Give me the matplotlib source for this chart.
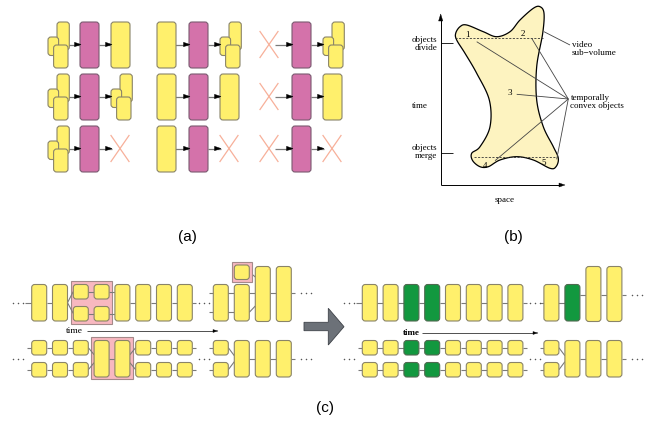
import numpy as np
import matplotlib
matplotlib.use("Agg")
import matplotlib.pyplot as plt
from matplotlib.patches import FancyBboxPatch, Polygon, Rectangle

# ---------------- content ----------------
# (a) event table: what precedes / follows the highlighted object
a_left_kinds = ["cluster", "single", "none"]            # one per column group
a_right_kinds = [["single", "cluster", "cluster"],       # one row per case
                 ["cluster", "single", "single"],
                 ["none", "none", "none"]]

# (b) outline of the video sub-volume (space, time)
b_outline = [(455.7, 33.3), (460, 26.7), (466.7, 25), (483.3, 31.7), (496.7, 36.7),
             (510, 31.7), (520, 20), (533.3, 8.3), (540, 6.7), (544, 13.3),
             (542.7, 33.3), (536.7, 66.7), (536.7, 100), (543.3, 126.7),
             (553.3, 146.7), (558.3, 158.3), (556, 166.7), (550, 168.3),
             (533.3, 160), (516.7, 156.7), (500, 160), (488.3, 166.7),
             (480, 166.7), (472.7, 160.7), (471.7, 153.3), (480, 146.7),
             (490, 126.7), (489.3, 100), (476.7, 73.3), (465, 53.3), (456.7, 40)]
b_object_ids = ["1", "2", "3", "4", "5"]
b_object_pos = [(467.7, 35), (522.7, 34.3), (510, 92.7), (485, 165.7), (544, 163.3)]
b_pointer_ends = [(476.7, 41.7), (531.7, 38.3), (516.7, 94.3), (495, 160.7), (556.7, 159.3)]

# (c) object tracks before and after grouping
c_top_left = ["F", "F", "S", "S", "F", "F", "F", "F"]     # F: full object, S: split pair
c_bot_left = ["P", "P", "P", "F", "F", "P", "P", "P"]     # P: pair of small objects
c_highlight_top = (2, 3)
c_highlight_bot = (3, 4)
c_green_cols = [2, 3]

# ---------------- style ----------------
YEL, YEL_E = "#fff06c", "#8a8468"
MAG, MAG_E = "#d472aa", "#7a5a70"
GRN, GRN_E = "#12983f", "#4f6a50"
PINK, PINK_E = "#f8b8c0", "#a48a8a"
XCOL = "#f7b09a"
LINE = "#7a7a7a"
SERIF = "Liberation Serif"

fig = plt.figure(figsize=(6.5, 4.24), dpi=100)
ax = fig.add_axes([0, 0, 1, 1])
ax.set_xlim(0, 650)
ax.set_ylim(424, 0)
ax.axis("off")


def rbox(x, y, w, h, fc=YEL, ec=YEL_E, r=3, z=2, lw=0.8):
    ax.add_patch(FancyBboxPatch((x, y), w, h, boxstyle=f"round,pad=0,rounding_size={r}",
                                fc=fc, ec=ec, lw=lw, zorder=z))


def seg(x0, y0, x1, y1, color=LINE, lw=0.8, z=1):
    ax.plot([x0, x1], [y0, y1], color=color, lw=lw, zorder=z, solid_capstyle="butt")


def head(xt, yt, length=6, half=2.2, color="black", z=3):
    ax.add_patch(Polygon([(xt, yt), (xt - length, yt - half), (xt - length, yt + half)],
                         closed=True, fc=color, ec=color, lw=0.3, zorder=z))


def dots(x0, y, n=3, gap=5.0):
    ax.plot([x0 + i * gap for i in range(n)], [y] * n, "o", ms=1.1, color="#555555",
            mec="none", zorder=3)


# ---------------- panel (a) ----------------
row_tops = [22, 74, 126]
group_x = [48, 157, 260]
SLOT_H = 46


def draw_slot(kind, x0, y0):
    yc = y0 + 22.5
    if kind == "cluster":
        rbox(x0 + 9, y0, 12.3, 28, z=2)
        rbox(x0, y0 + 15, 10.6, 18.5, z=3)
        rbox(x0 + 5.6, y0 + 23, 14.4, 23, z=4)
        return x0, x0 + 21
    if kind == "single":
        rbox(x0, y0, 19, SLOT_H, z=2)
        return x0, x0 + 19
    ax.plot([x0, x0 + 18], [yc - 13, yc + 13], color=XCOL, lw=0.9, zorder=2)
    ax.plot([x0, x0 + 18], [yc + 13, yc - 13], color=XCOL, lw=0.9, zorder=2)
    return x0, x0 + 18


for r, y0 in enumerate(row_tops):
    yc = y0 + 22.5
    for g, gx in enumerate(group_x):
        _, lr = draw_slot(a_left_kinds[g], gx, y0)
        mx = gx + 32
        rbox(mx, y0, 19, SLOT_H, fc=MAG, ec=MAG_E, z=2)
        rl, _ = draw_slot(a_right_kinds[r][g], gx + 63, y0)
        seg(lr - 3, yc, mx, yc, lw=0.9, z=1)
        head(mx + 1, yc, length=6.5)
        seg(mx + 19, yc, rl + 1, yc, lw=0.9, z=1)
        head(rl + 1, yc, length=6.5)

ax.text(187, 237, "(a)", ha="center", va="center", fontsize=11, family="Liberation Sans")

# ---------------- panel (b) ----------------
def closed_spline(pts, n=24):
    P = np.asarray(pts, float)
    N = len(P)
    t = np.linspace(0, 1, n, endpoint=False)[:, None]
    out = []
    for i in range(N):
        p0, p1, p2, p3 = P[i - 1], P[i], P[(i + 1) % N], P[(i + 2) % N]
        out.append(0.5 * (2 * p1 + (-p0 + p2) * t + (2 * p0 - 5 * p1 + 4 * p2 - p3) * t ** 2
                          + (-p0 + 3 * p1 - 3 * p2 + p3) * t ** 3))
    return np.vstack(out)


curve = closed_spline(b_outline)
ax.add_patch(Polygon(curve, closed=True, fc="#fdf3c0", ec="black", lw=0.9, zorder=2))

# axes of the space-time plot
seg(440.7, 185, 440.7, 20, color="black", lw=0.7, z=3)
ax.add_patch(Polygon([(440.7, 14), (438.6, 21), (442.8, 21)], closed=True,
                     fc="black", ec="black", lw=0.3, zorder=3))
seg(440.7, 185, 559, 185, color="black", lw=0.7, z=3)
head(565, 185, length=6, half=2)
seg(440.7, 43, 453, 43, color="black", lw=0.6, z=3)
seg(440.7, 153, 453, 153, color="black", lw=0.6, z=3)

ax.text(437, 44, "objects\ndivide", ha="right", va="center", fontsize=6.5, family=SERIF,
        linespacing=0.85)
ax.text(437, 152, "objects\nmerge", ha="right", va="center", fontsize=6.5, family=SERIF,
        linespacing=0.85)
ax.text(420, 106, "time", ha="center", va="center", fontsize=6.5, family=SERIF)
ax.text(505, 200, "space", ha="center", va="center", fontsize=6.5, family=SERIF)

ax.plot([455, 543], [37.7, 37.7], ls=(0, (2.5, 1.8)), color="#333333", lw=0.6, zorder=3)
ax.plot([474, 557], [156.7, 156.7], ls=(0, (2.5, 1.8)), color="#333333", lw=0.6, zorder=3)

for lab, (x, y) in zip(b_object_ids, b_object_pos):
    ax.text(x, y, lab, ha="center", va="center", fontsize=6.5, family=SERIF, zorder=4)

hub = (568.3, 99)
for (x, y) in b_pointer_ends:
    seg(x, y, hub[0], hub[1], color="#444444", lw=0.6, z=3)
seg(544, 31.7, 570, 45, color="#444444", lw=0.6, z=3)
ax.text(571.5, 49, "video\nsub\u2212volume", ha="left", va="center", fontsize=6.5,
        family=SERIF, linespacing=0.9)
ax.text(570.5, 102, "temporally\nconvex objects", ha="left", va="center", fontsize=6.5,
        family=SERIF, linespacing=0.9)

ax.text(513, 237, "(b)", ha="center", va="center", fontsize=11, family="Liberation Sans")

# ---------------- panel (c) ----------------
W = 15.0
STEP = 20.8
TOP_Y, TOP_H = 284.5, 36.5
TALL_Y, TALL_H = 266.5, 55.0
SM_H = 14.5
TOP_SPLIT = [284.5, 306.5]
BOT_Y = [340.5, 362.5]
BOT_H = 36.5
TOP_MID = 302.7
BOT_MID = 358.7


def c_panel(ox, green):
    xs = [31.7 + ox + STEP * i for i in range(8)]
    xr = [213.3 + ox + 21.0 * i for i in range(4)]
    fc = lambda i: GRN if (green and i in c_green_cols) else YEL
    ec = lambda i: GRN_E if (green and i in c_green_cols) else YEL_E

    # ----- upper track (left section)
    kinds_top = ["F"] * 8 if green else c_top_left
    if not green:
        a, b = c_highlight_top
        ax.add_patch(Rectangle((xs[a] - 2.6, 281.2), xs[b] + W - xs[a] + 5.2, 42.4,
                               fc=PINK, ec=PINK_E, lw=0.8, zorder=1.5))
    dots(ox + 13, TOP_MID)
    seg(ox + 25, TOP_MID, xs[0], TOP_MID)
    for i, k in enumerate(kinds_top):
        if k == "F":
            rbox(xs[i], TOP_Y, W, TOP_H, fc=fc(i), ec=ec(i))
        else:
            for y in TOP_SPLIT:
                rbox(xs[i], y, W, SM_H, fc=fc(i), ec=ec(i))
        if i < 7:
            nk = kinds_top[i + 1]
            x0, x1 = xs[i] + W, xs[i + 1]
            if k == "F" and nk == "F":
                seg(x0, TOP_MID, x1, TOP_MID)
            elif k == "F" and nk == "S":
                seg(x0, TOP_MID, x1, TOP_SPLIT[0] + 7, z=1.6)
                seg(x0, TOP_MID, x1, TOP_SPLIT[1] + 7, z=1.6)
            else:
                for y in TOP_SPLIT:
                    seg(x0, y + 7, x1, y + 7, z=1.6)
    seg(xs[7] + W, TOP_MID, xs[7] + W + 4, TOP_MID)
    dots(ox + 199, TOP_MID)

    # ----- upper track (right section)
    if not green:
        for y in (293.3, 312.3):
            seg(xr[0] - 4, y, xr[1], y)
        ax.add_patch(Rectangle((xr[1] - 2.5, 262.2), W + 5, 19.8, fc=PINK, ec=PINK_E,
                               lw=0.8, zorder=1.5))
        rbox(xr[1], 265, W, SM_H, r=3)
        rbox(xr[0], TOP_Y, W, TOP_H)
        rbox(xr[1], TOP_Y, W, TOP_H)
        seg(xr[1] + W, 272, xr[2], 277)
        seg(xr[1] + W, 312.3, xr[2], 306)
        seg(xr[1] + W, 293.3, xr[2], 293.3)
        line_y = 293.3
    else:
        seg(xr[0] - 4, TOP_MID, xr[1], TOP_MID)
        rbox(xr[0], TOP_Y, W, TOP_H)
        rbox(xr[1], TOP_Y, W, TOP_H, fc=GRN, ec=GRN_E)
        line_y = 295.0
        seg(xr[1] + W, line_y, xr[2], line_y)
    rbox(xr[2], TALL_Y, W, TALL_H)
    rbox(xr[3], TALL_Y, W, TALL_H)
    seg(xr[2] + W, line_y, xr[3], line_y)
    seg(xr[3] + W, line_y, xr[3] + W + 4, line_y)
    dots(xr[3] + W + 10, line_y)

    # ----- lower track (left section)
    kinds_bot = ["P"] * 8 if green else c_bot_left
    if not green:
        a, b = c_highlight_bot
        ax.add_patch(Rectangle((xs[a] - 3.3, 337.3), xs[b] + W - xs[a] + 6.6, 42.0,
                               fc=PINK, ec=PINK_E, lw=0.8, zorder=1.5))
    dots(ox + 13, BOT_MID)
    for y in BOT_Y:
        seg(ox + 27, y + 7.2, xs[0], y + 7.2)
    for i, k in enumerate(kinds_bot):
        if k == "F":
            rbox(xs[i], BOT_Y[0], W, BOT_H, fc=fc(i), ec=ec(i))
        else:
            for y in BOT_Y:
                rbox(xs[i], y, W, SM_H, fc=fc(i), ec=ec(i))
        if i < 7:
            nk = kinds_bot[i + 1]
            x0, x1 = xs[i] + W, xs[i + 1]
            if k == "P" and nk == "P":
                for y in BOT_Y:
                    seg(x0, y + 7.2, x1, y + 7.2)
            elif k == "P" and nk == "F":
                seg(x0, BOT_Y[0] + 7.2, x1, BOT_MID - 4, z=1.6)
                seg(x0, BOT_Y[1] + 7.2, x1, BOT_MID + 4, z=1.6)
            elif k == "F" and nk == "P":
                seg(x0, BOT_MID - 4, x1, BOT_Y[0] + 7.2, z=1.6)
                seg(x0, BOT_MID + 4, x1, BOT_Y[1] + 7.2, z=1.6)
            else:
                seg(x0, BOT_MID, x1, BOT_MID, z=1.6)
    for y in BOT_Y:
        seg(xs[7] + W, y + 7.2, xs[7] + W + 4, y + 7.2)
    dots(ox + 199, BOT_MID)

    # ----- lower track (right section)
    for y in BOT_Y:
        seg(xr[0] - 4, y + 7.2, xr[0], y + 7.2)
        rbox(xr[0], y, W, SM_H)
    seg(xr[0] + W, BOT_Y[0] + 7.2, xr[1], BOT_MID - 3)
    seg(xr[0] + W, BOT_Y[1] + 7.2, xr[1], BOT_MID + 3)
    for j in (1, 2, 3):
        rbox(xr[j], BOT_Y[0], W, BOT_H)
        end = xr[j + 1] if j < 3 else xr[3] + W + 4
        seg(xr[j] + W, BOT_MID, end, BOT_MID)
    dots(xr[3] + W + 10, BOT_MID)


c_panel(0, green=False)
c_panel(330.6, green=True)

# time arrows
ax.text(74, 331, "time", ha="center", va="center", fontsize=6.8, family=SERIF)
seg(87, 331, 213, 331, color="#333333", lw=0.6, z=3)
head(218, 331, length=5, half=1.4)
ax.text(411, 333, "time", ha="center", va="center", fontsize=6.5, family=SERIF,
        fontweight="bold")
seg(421.7, 333, 533, 333, color="#333333", lw=0.6, z=3)
head(538, 333, length=5, half=1.4)

# transformation arrow
ax.add_patch(Polygon([(304, 322.3), (328.3, 322.3), (328.3, 308.3), (344, 326.7),
                      (328.3, 345), (328.3, 330.7), (304, 330.7)], closed=True,
                     fc="#6c7178", ec="#3e4248", lw=0.6, zorder=3))

ax.text(325, 408, "(c)", ha="center", va="center", fontsize=11, family="Liberation Sans")

fig.savefig("out.png", dpi=100)
